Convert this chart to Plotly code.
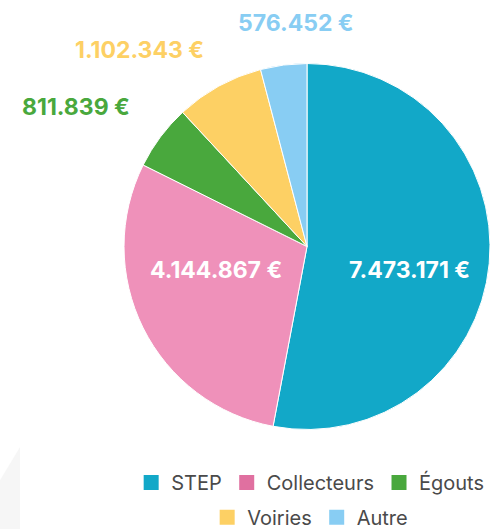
import plotly.graph_objects as go

categories = ["STEP", "Collecteurs", "Égouts", "Voiries", "Autre"]
values = [7473171, 4144867, 811839, 1102343, 576452]
colors = ["#12a8c8", "#ef91ba", "#49a83d", "#fdd064", "#88cdf3"]
legend_colors = ["#12a8c8", "#e070a0", "#49a83d", "#fdd064", "#88cdf3"]

# label anchor positions (paper fractions) and text colors
label_pos = [(0.8367, 0.4896), (0.4408, 0.4896), (0.155, 0.7977), (0.2857, 0.9055), (0.604, 0.9565)]
label_colors = ["#ffffff", "#ffffff", colors[2], colors[3], colors[4]]

def fmt(v):
    return f"{v:,}".replace(",", ".") + " €"

FONT = "Inter, Lato, sans-serif"

fig = go.Figure()
fig.add_trace(go.Pie(
    labels=categories,
    values=values,
    marker=dict(colors=colors, line=dict(color="#ffffff", width=1)),
    sort=False,
    direction="clockwise",
    rotation=0,
    textinfo="none",
    hoverinfo="label+value",
    showlegend=False,
    domain=dict(x=[0.2531, 1.0], y=[0.188, 0.880]),
))

# legend entries (two centered rows)
for i, (c, col) in enumerate(zip(categories, legend_colors)):
    fig.add_trace(go.Scatter(
        x=[None], y=[None], mode="markers", name=c,
        marker=dict(symbol="square", size=15, color=col),
        legend="legend" if i < 3 else "legend2",
        showlegend=True, hoverinfo="skip",
    ))

anns = []
for v, (x, y), tc in zip(values, label_pos, label_colors):
    anns.append(dict(
        x=x, y=y, xref="paper", yref="paper", text=fmt(v), showarrow=False,
        xanchor="center", yanchor="middle",
        font=dict(family=FONT, size=23, color=tc, weight=700),
    ))

legend_common = dict(
    orientation="h", xanchor="center", yanchor="middle", x=0.633,
    font=dict(family=FONT, size=20, color="#4a4a4a"),
    bgcolor="rgba(0,0,0,0)", itemclick=False, itemdoubleclick=False,
    tracegroupgap=0, itemwidth=30,
)

fig.update_layout(
    width=490, height=529,
    margin=dict(l=0, r=0, t=0, b=0, autoexpand=False),
    paper_bgcolor="#ffffff", plot_bgcolor="#ffffff",
    xaxis=dict(visible=False), yaxis=dict(visible=False),
    legend=dict(y=0.088, **legend_common),
    legend2=dict(y=0.022, **legend_common),
    annotations=anns,
    shapes=[dict(type="path", xref="paper", yref="paper",
                 path="M 0 0.092 L 0.041 0.155 L 0.041 0 L 0 0 Z",
                 fillcolor="#f6f6f6", line=dict(width=0), layer="below")],
)

fig.write_html(
    "out.html",
    config={"displayModeBar": False},
    post_script="document.body.style.margin='0';document.body.style.overflow='hidden';",
)
